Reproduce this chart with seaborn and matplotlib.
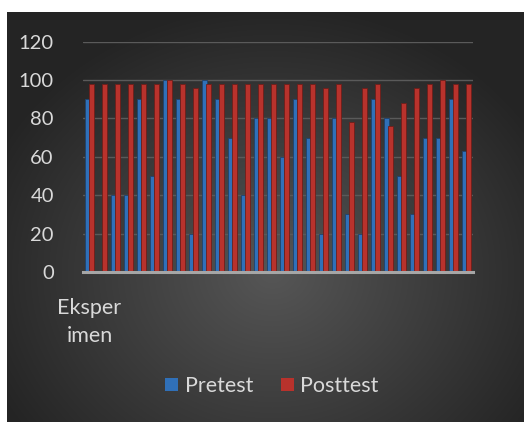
import numpy as np
import pandas as pd
import matplotlib
matplotlib.use("Agg")
import matplotlib.pyplot as plt
import matplotlib.colors as mcolors
import seaborn as sns

# ---- data ----
categories = ["Eksperimen"] + [""] * 29
pretest = [90, 0, 40, 40, 90, 50, 100, 90, 20, 100,
           90, 70, 40, 80, 80, 60, 90, 70, 20, 80,
           30, 20, 90, 80, 50, 30, 70, 70, 90, 63]
posttest = [98, 98, 98, 98, 98, 98, 100, 98, 96, 98,
            98, 98, 98, 98, 98, 98, 98, 98, 96, 98,
            78, 96, 98, 76, 88, 96, 98, 100, 98, 98]
series_names = ["Pretest", "Posttest"]
y_ticks = [0, 20, 40, 60, 80, 100, 120]

idx = list(range(len(categories)))
df = pd.DataFrame({
    "idx": idx * 2,
    "value": pretest + posttest,
    "group": [series_names[0]] * len(idx) + [series_names[1]] * len(idx),
})

sns.set_theme(style="white")
plt.rcParams["font.family"] = ["Lato", "DejaVu Sans"]

W, H = 524, 422
fig = plt.figure(figsize=(W / 100, H / 100), dpi=100, facecolor="white")

# dark radial gradient panel
bg = fig.add_axes([7 / W, 0, (W - 7) / W, (H - 12) / H])
bg.set_axis_off()
gy, gx = np.mgrid[0:410, 0:517]
cx, cy = 265, 260
r = np.sqrt(((gx - cx) / 310.0) ** 2 + ((gy - cy) / 270.0) ** 2)
r = np.clip(r, 0, 1)
c_in, c_out = 0x56, 0x24
val = (c_in + (c_out - c_in) * r) / 255.0
img = np.dstack([val, val, val])
bg.imshow(img, aspect="auto", interpolation="bilinear")
bg.set_zorder(0)

ax = fig.add_axes([83 / W, 1 - 272 / H, (473 - 83) / W, (272 - 41.7) / H])
ax.set_zorder(1)
ax.patch.set_alpha(0)

blue = "#3070b8"
red = "#b8322c"
sns.barplot(data=df, x="idx", y="value", hue="group", palette=[blue, red],
            width=0.76, saturation=1, ax=ax, legend=True,
            linewidth=0, edgecolor="none")

# darker rim on each bar, like the bevelled Excel bars
for p in ax.patches:
    fc = np.array(mcolors.to_rgb(p.get_facecolor()))
    p.set_edgecolor(tuple(fc * 0.6))
    p.set_linewidth(0.6)

ax.set_ylim(0, 120)
ax.set_xlim(-0.5, len(categories) - 0.5)
ax.set_yticks(y_ticks)
ax.set_yticklabels([str(t) for t in y_ticks])
ax.yaxis.grid(True, color="#5a5a5a", linewidth=1.0)
ax.set_axisbelow(True)
ax.set_xlabel("")
ax.set_ylabel("")
for s in ["top", "right", "left"]:
    ax.spines[s].set_visible(False)
ax.spines["bottom"].set_color("#a6a6a6")
ax.spines["bottom"].set_linewidth(2.2)

ax.tick_params(axis="y", length=0, pad=21, labelsize=14.5, labelcolor="#d9d9d9")
ax.tick_params(axis="x", length=0, pad=19, labelsize=15.5, labelcolor="#d9d9d9")
ax.set_xticks(idx)
ax.set_xticklabels(["Eksper\nimen" if c == "Eksperimen" else c for c in categories],
                   linespacing=1.45)

leg = ax.get_legend()
handles = leg.legend_handles
leg.remove()
fig.legend(handles, series_names, loc="center", bbox_to_anchor=(272 / W, 1 - 386 / H),
           ncol=2, frameon=False, fontsize=15.5, labelcolor="#d9d9d9",
           handlelength=0.6, handleheight=0.6, handletextpad=0.3, columnspacing=1.3)

fig.savefig("out.png", dpi=100, facecolor="white")
